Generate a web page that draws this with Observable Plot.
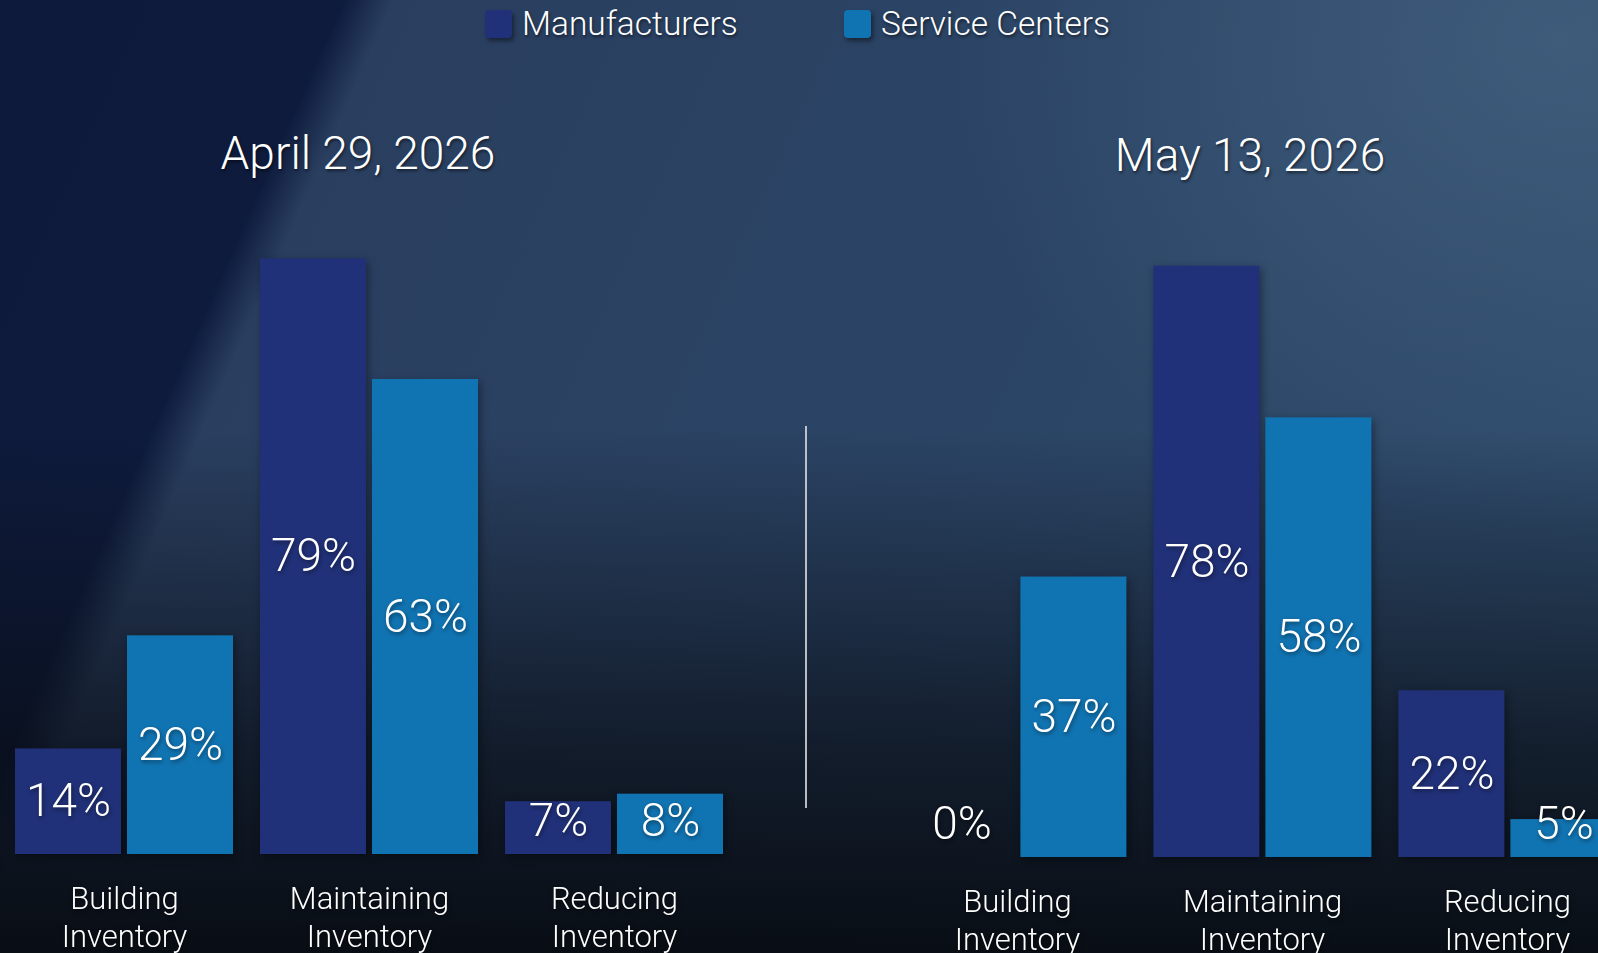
<!DOCTYPE html>
<html>
<head>
<meta charset="utf-8">
<script src="https://cdn.jsdelivr.net/npm/d3@7"></script>
<script src="https://cdn.jsdelivr.net/npm/@observablehq/plot@0.6"></script>
<style>
  html, body { margin: 0; padding: 0; }
  body {
    width: 1598px; height: 953px; overflow: hidden; position: relative;
    font-family: Roboto, "Liberation Sans", sans-serif; font-weight: 300; color: #fff;
    background:
      linear-gradient(180deg, rgba(6,10,18,0) 0%, rgba(6,10,18,0) 45%, rgba(8,12,20,0.7) 78%, rgba(6,9,14,0.92) 100%),
      radial-gradient(ellipse 900px 700px at 1560px 40px, rgba(90,120,150,0.4), rgba(90,120,150,0) 70%),
      linear-gradient(114deg, #0d1a3b 0%, #0e1b3d 17%, #2a3f60 19.5%, #2b4465 55%, #2f4d6d 100%);
  }
  .panel { position: absolute; top: 0; width: 760px; height: 953px; }
  .panel svg { max-width: none !important; }
  .title { position: absolute; font-size: 46px; transform: translate(-50%, -50%); white-space: nowrap; text-shadow: 1px 2px 3px rgba(0,0,0,0.55); }
  .legend { position: absolute; top: 4px; display: flex; align-items: center; font-size: 33.5px; text-shadow: 1px 2px 3px rgba(0,0,0,0.55); }
  .sw { width: 27px; height: 28px; border-radius: 4px; margin-right: 10px; box-shadow: 2px 3px 4px rgba(0,0,0,0.45); }
  .divider { position: absolute; left: 805px; top: 426px; width: 2px; height: 382px; background: rgba(215,215,220,0.85); }
  svg text { filter: drop-shadow(1px 2px 2px rgba(0,0,0,0.45)); }
  svg g[aria-label="bar"] rect { filter: drop-shadow(2px 3px 4px rgba(0,0,0,0.4)); }
</style>
</head>
<body>
<div id="legend"></div>
<div class="divider"></div>
<div id="left" class="panel" style="left:0px"></div>
<div id="right" class="panel" style="left:892px"></div>
<div class="title" style="left:358px; top:153px">April 29, 2026</div>
<div class="title" style="left:1250px; top:155px">May 13, 2026</div>
<script>
const categories = ["Building Inventory", "Maintaining Inventory", "Reducing Inventory"];
const series = ["Manufacturers", "Service Centers"];
const colors = ["#213179", "#1174b2"];
const aprilManufacturers = [14, 79, 7];
const aprilServiceCenters = [29, 63, 8];
const mayManufacturers = [0, 78, 22];
const mayServiceCenters = [37, 58, 5];

function rows(m, s) {
  const out = [];
  categories.forEach((c, i) => {
    out.push({category: c, series: series[0], value: m[i]});
    out.push({category: c, series: series[1], value: s[i]});
  });
  return out;
}

function panel(data, marginLeft, marginTop, marginBottom) {
  return Plot.plot({
    width: marginLeft + 708 + 20,
    height: 953,
    marginLeft, marginRight: 20, marginTop, marginBottom,
    style: {background: "transparent", fontFamily: "Roboto, 'Liberation Sans', sans-serif", fontWeight: 300, color: "#fff", overflow: "visible", maxWidth: "none"},
    fx: {domain: categories, paddingInner: 27 / 245, paddingOuter: 0, axis: null},
    x: {domain: series, paddingInner: 6 / 112, paddingOuter: 0, axis: null},
    y: {domain: [0, 100], axis: null},
    color: {domain: series, range: colors},
    facet: {marginTop: 0, marginBottom: 0, marginLeft: 0, marginRight: 0},
    marks: [
      Plot.barY(data, {fx: "category", x: "series", y: "value", fill: "series"}),
      Plot.text(data, {fx: "category", x: "series", y: d => Math.max(d.value / 2, 4.4),
        text: d => d.value + "%", fill: "#fff", fontSize: 46, fontWeight: 300}),
      Plot.text(categories, {fx: d => d, text: d => d.replace(" ", "\n"), frameAnchor: "bottom",
        lineAnchor: "top", dy: 28, fontSize: 31, lineHeight: 1.22, fill: "#fff", fontWeight: 300})
    ]
  });
}

document.getElementById("left").append(panel(rows(aprilManufacturers, aprilServiceCenters), 15, 100, 99));
document.getElementById("right").append(panel(rows(mayManufacturers, mayServiceCenters), 15.6, 99, 96));

const legend = document.getElementById("legend");
const legendLefts = [485, 844];
series.forEach((s, i) => {
  const item = document.createElement("div");
  item.className = "legend";
  item.style.left = legendLefts[i] + "px";
  item.innerHTML = `<div class="sw" style="background:${colors[i]}"></div><span>${s}</span>`;
  legend.append(item);
});
</script>
</body>
</html>
